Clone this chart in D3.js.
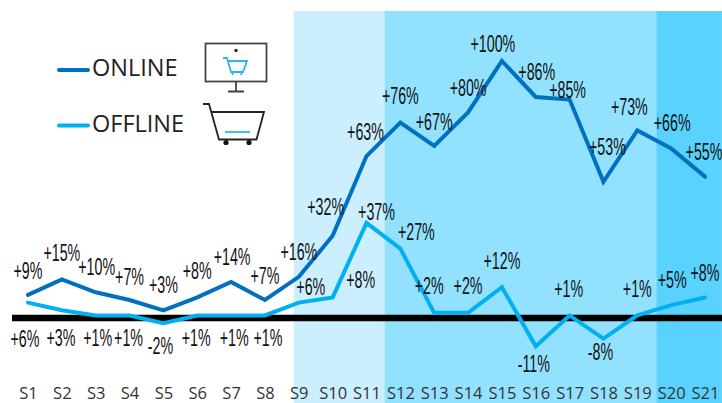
<!DOCTYPE html>
<html>
<head>
<meta charset="utf-8">
<script src="https://cdn.jsdelivr.net/npm/d3@7"></script>
<style>
  html, body { margin: 0; padding: 0; background: #fff; }
  svg { display: block; }
  .tick text { font-family: "Open Sans", sans-serif; }
</style>
</head>
<body>
<script>
var weeks = ["S1","S2","S3","S4","S5","S6","S7","S8","S9","S10","S11","S12","S13","S14","S15","S16","S17","S18","S19","S20","S21"];
var online = [9,15,10,7,3,8,14,7,16,32,63,76,67,80,100,86,85,53,73,66,55];
var offline = [6,3,1,1,-2,1,1,1,6,8,37,27,2,2,12,-11,1,-8,1,5,8];

//shaded periods, edges in week position
var periodEdges = [7.85, 10.53, 18.56, 20.5];
var periodColors = ["#CCEFFF", "#92E2FF", "#59D2FF"];

//label nudges in px from each point, [dx, dy]
var onlineNudge = [[0,-24],[0,-26],[1,-25],[0,-23],[0,-25],[0,-26],[1,-25],[0,-24],[0,-25],[-7,-29],[-1,-24],[0,-27],[0,-24],[0,-24],[-9,-17],[1,-25],[-2,-10],[4,-35],[-8,-23],[1,-25],[-1,-25]];
var offlineNudge = [[-3,36],[-1,28],[2,23],[-1,23],[-3,23],[-1,23],[3,23],[3,23],[12,-16],[28,-17],[10,-11],[16,-17],[-5,-27],[0,-27],[0,-26],[-2,18],[-1,-26],[-3,13],[0,-26],[1,-25],[0,-24]];

var w = 722, h = 403;

var svg = d3.select("body")
    .append("svg")
    .attr("width", w)
    .attr("height", h);

var x = d3.scaleLinear().domain([0, 20]).range([28, 705]);
var xTicks = d3.scalePoint().domain(weeks).range([28, 705]);
var y = d3.scaleLinear().domain([0, 100]).range([318, 61]);

//background bands
svg.selectAll(".band")
    .data(periodColors)
    .enter()
    .append("rect")
    .attr("class", "band")
    .attr("x", function(d, i){ return x(periodEdges[i]); })
    .attr("y", 11)
    .attr("width", function(d, i){ return x(periodEdges[i + 1]) - x(periodEdges[i]); })
    .attr("height", h - 11)
    .style("fill", function(d){ return d; });

//zero line
svg.append("line")
    .attr("x1", 12)
    .attr("x2", w)
    .attr("y1", y(0))
    .attr("y2", y(0))
    .style("stroke", "#000")
    .style("stroke-width", 6.5);

var line = d3.line()
    .x(function(d, i){ return x(i); })
    .y(function(d){ return y(d); });

function drawSeries(values, color){
    svg.append("path")
        .datum(values)
        .attr("d", line)
        .style("fill", "none")
        .style("stroke", color)
        .style("stroke-width", 4)
        .style("stroke-linecap", "round")
        .style("stroke-linejoin", "miter");
}
drawSeries(offline, "#00B0F0");
drawSeries(online, "#0070C0");

function fmt(v){
    return (v > 0 ? "+" : "") + v + "%";
}

function drawLabels(values, nudge){
    svg.selectAll(null)
        .data(values)
        .enter()
        .append("text")
        .attr("transform", function(d, i){
            return "translate(" + (x(i) + nudge[i][0]) + "," + (y(d) + nudge[i][1] + 8) + ") scale(0.62,1)";
        })
        .attr("text-anchor", "middle")
        .style("font-family", "'Liberation Sans', sans-serif")
        .style("font-size", "23px")
        .style("fill", "#111")
        .text(fmt);
}
drawLabels(online, onlineNudge);
drawLabels(offline, offlineNudge);

//week axis
var axis = d3.axisBottom(xTicks).tickSize(0).tickPadding(0);
var axisG = svg.append("g")
    .attr("transform", "translate(0,387)")
    .call(axis);
axisG.select(".domain").remove();
axisG.selectAll("text")
    .style("font-size", "16.5px")
    .style("fill", "#333");

//legend
var legendNames = ["ONLINE", "OFFLINE"];
var legendColors = ["#0070C0", "#00B0F0"];
var legendY = [70, 125.5];

var legend = svg.selectAll(".legend")
    .data(legendNames)
    .enter()
    .append("g")
    .attr("class", "legend")
    .attr("transform", function(d, i){ return "translate(0," + legendY[i] + ")"; });

legend.append("line")
    .attr("x1", 59)
    .attr("x2", 88)
    .style("stroke", function(d, i){ return legendColors[i]; })
    .style("stroke-width", 4)
    .style("stroke-linecap", "round");

legend.append("text")
    .attr("x", 92)
    .attr("y", 6)
    .style("font-family", "'Open Sans', sans-serif")
    .style("font-size", "23.5px")
    .style("fill", "#222")
    .text(function(d){ return d; });

//monitor icon
var monitor = svg.append("g").style("fill", "none").style("stroke", "#444").style("stroke-width", 1.8);
monitor.append("rect").attr("x", 205.5).attr("y", 43.5).attr("width", 61).attr("height", 38);
monitor.append("path").attr("d", "M236 82V91M228 91.5H244");
monitor.append("circle").attr("cx", 236).attr("cy", 50.5).attr("r", 1.8).style("fill", "#333").style("stroke", "none");
monitor.append("path")
    .attr("d", "M223 58H227L231 72H243L247 61H228M232 72L233 75M242 72L241 75")
    .style("stroke", "#29B6F0");

//cart icon
var cart = svg.append("g").style("fill", "none").style("stroke", "#222").style("stroke-width", 1.8);
cart.append("path").attr("d", "M203 104H209L219 139.5H256.5L264 112H211.5");
cart.append("path").attr("d", "M225 132H250").style("stroke", "#29B6F0");
cart.selectAll("circle")
    .data([226, 249])
    .enter()
    .append("circle")
    .attr("cx", function(d){ return d; })
    .attr("cy", 142.5)
    .attr("r", 2.6)
    .style("fill", "#111")
    .style("stroke", "none");
</script>
</body>
</html>
